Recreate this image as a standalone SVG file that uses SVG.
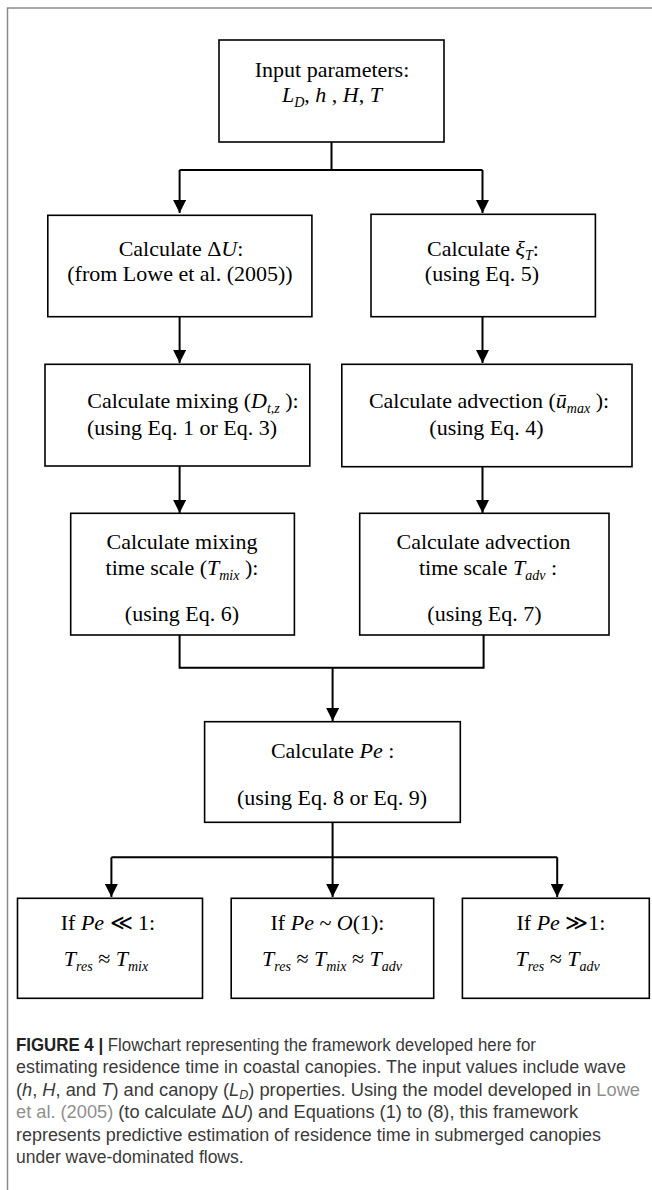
<svg xmlns="http://www.w3.org/2000/svg" width="652" height="1190" viewBox="0 0 652 1190">
<style>
.box{fill:#fff;stroke:#000;stroke-width:1.6}
.t{font-family:"Liberation Serif","Times New Roman","DejaVu Serif",serif;font-size:22px;fill:#000;text-anchor:middle}
.i{font-style:italic}
.s{font-size:14px;font-style:italic}
.c{stroke:#000;stroke-width:2;fill:none}
.cap{font-family:"Liberation Sans",Arial,sans-serif;font-size:17.5px;fill:#3a3a3a}
.lnk{fill:#8f8f8f}
</style>
<defs>
<marker id="ah" markerUnits="userSpaceOnUse" markerWidth="13" markerHeight="13" refX="13" refY="6.5" orient="auto">
<path d="M0,0 L13,6.5 L0,13 Z" fill="#000"/>
</marker>
</defs>
<rect x="0" y="0" width="652" height="1190" fill="#fff"/>
<rect x="7.5" y="8" width="700" height="1250" fill="none" stroke="#8a8a8a" stroke-width="1.5"/>

<g id="connectors">
<path class="c" d="M331.5,142 V170 M179.6,170 H482.5"/>
<path class="c" d="M179.6,170 V213" marker-end="url(#ah)"/>
<path class="c" d="M482.5,170 V213" marker-end="url(#ah)"/>
<path class="c" d="M179.6,316.7 V363" marker-end="url(#ah)"/>
<path class="c" d="M482.5,316.7 V363" marker-end="url(#ah)"/>
<path class="c" d="M179.6,466 V513" marker-end="url(#ah)"/>
<path class="c" d="M482.5,466.7 V513" marker-end="url(#ah)"/>
<path class="c" d="M179.6,635 V667.7 H483.6 V635"/>
<path class="c" d="M332.6,667.7 V721" marker-end="url(#ah)"/>
<path class="c" d="M332.6,822.3 V897" marker-end="url(#ah)"/>
<path class="c" d="M111.4,857.3 H557.2"/>
<path class="c" d="M111.4,857.3 V897" marker-end="url(#ah)"/>
<path class="c" d="M557.2,857.3 V897" marker-end="url(#ah)"/>
</g>

<g id="input">
<rect class="box" x="219" y="40" width="225" height="102"/>
<text class="t" x="332" y="77">Input parameters:</text>
<text class="t" x="332" y="102"><tspan class="i">L</tspan><tspan class="s" dy="5">D</tspan><tspan dy="-5">,  </tspan><tspan class="i">h</tspan> , <tspan class="i">H</tspan>, <tspan class="i">T</tspan></text>
</g>

<g id="deltaU">
<rect class="box" x="47.8" y="215.3" width="264.1" height="101.4"/>
<text class="t" x="181" y="256">Calculate Δ<tspan class="i">U</tspan>:</text>
<text class="t" x="180" y="281">(from Lowe et al. (2005))</text>
</g>

<g id="xiT">
<rect class="box" x="371" y="214.3" width="224.4" height="102.4"/>
<text class="t" x="483" y="256">Calculate <tspan class="i">ξ</tspan><tspan class="s" dy="4">T</tspan><tspan dy="-4">:</tspan></text>
<text class="t" x="482" y="281">(using Eq. 5)</text>
</g>

<g id="mixing">
<rect class="box" x="45" y="364.3" width="264.8" height="101.7"/>
<text class="t" x="193" y="408">Calculate mixing (<tspan class="i">D</tspan><tspan class="s" dy="5">t,z</tspan><tspan dy="-5"> ):</tspan></text>
<text class="t" x="182" y="435">(using Eq. 1 or Eq. 3)</text>
</g>

<g id="advection">
<rect class="box" x="341.8" y="364.3" width="290.2" height="102.4"/>
<text class="t" x="489" y="408">Calculate advection (<tspan class="i">ū</tspan><tspan class="s" dy="5">max</tspan><tspan dy="-5"> ):</tspan></text>
<text class="t" x="486.5" y="435">(using Eq. 4)</text>
</g>

<g id="tmix">
<rect class="box" x="70.7" y="513.3" width="223.7" height="121.7"/>
<text class="t" x="182" y="549">Calculate mixing</text>
<text class="t" x="182" y="575">time scale (<tspan class="i">T</tspan><tspan class="s" dy="5">mix</tspan><tspan dy="-5"> ):</tspan></text>
<text class="t" x="182" y="621">(using Eq. 6)</text>
</g>

<g id="tadv">
<rect class="box" x="359.7" y="513.3" width="249.3" height="121.7"/>
<text class="t" x="483.5" y="549">Calculate advection</text>
<text class="t" x="488" y="575">time scale <tspan class="i">T</tspan><tspan class="s" dy="5">adv</tspan><tspan dy="-5"> :</tspan></text>
<text class="t" x="484.5" y="621">(using Eq. 7)</text>
</g>

<g id="peclet">
<rect class="box" x="204.6" y="721.7" width="255.7" height="100.6"/>
<text class="t" x="332.6" y="758">Calculate <tspan class="i">Pe</tspan> :</text>
<text class="t" x="332" y="805">(using Eq. 8 or Eq. 9)</text>
</g>

<g id="peSmall">
<rect class="box" x="17.5" y="898.3" width="185" height="100"/>
<text class="t" x="108" y="930">If <tspan class="i">Pe</tspan> ≪ 1:</text>
<text class="t" x="106" y="966"><tspan class="i">T</tspan><tspan class="s" dy="5">res</tspan><tspan dy="-5"> ≈ </tspan><tspan class="i">T</tspan><tspan class="s" dy="5">mix</tspan></text>
</g>

<g id="peOne">
<rect class="box" x="231.2" y="898.3" width="202.5" height="100"/>
<text class="t" x="327.5" y="930">If <tspan class="i">Pe</tspan> ~ <tspan class="i">O</tspan>(1):</text>
<text class="t" x="332" y="966"><tspan class="i">T</tspan><tspan class="s" dy="5">res</tspan><tspan dy="-5"> ≈ </tspan><tspan class="i">T</tspan><tspan class="s" dy="5">mix</tspan><tspan dy="-5"> ≈ </tspan><tspan class="i">T</tspan><tspan class="s" dy="5">adv</tspan></text>
</g>

<g id="peLarge">
<rect class="box" x="462.4" y="898.3" width="186.9" height="100"/>
<text class="t" x="561" y="930">If <tspan class="i">Pe</tspan>  ≫1:</text>
<text class="t" x="557.6" y="966"><tspan class="i">T</tspan><tspan class="s" dy="5">res</tspan><tspan dy="-5"> ≈ </tspan><tspan class="i">T</tspan><tspan class="s" dy="5">adv</tspan></text>
</g>

<g id="caption">
<text class="cap" x="16" y="1050.5" textLength="520" lengthAdjust="spacingAndGlyphs"><tspan font-weight="bold" fill="#222">FIGURE 4 | </tspan>Flowchart representing the framework developed here for</text>
<text class="cap" x="16" y="1073" textLength="610" lengthAdjust="spacingAndGlyphs">estimating residence time in coastal canopies. The input values include wave</text>
<text class="cap" x="16" y="1095.6" textLength="624" lengthAdjust="spacingAndGlyphs">(<tspan font-style="italic">h</tspan>, <tspan font-style="italic">H</tspan>, and <tspan font-style="italic">T</tspan>) and canopy (<tspan font-style="italic">L</tspan><tspan font-style="italic" font-size="12" dy="3">D</tspan><tspan dy="-3">) properties. Using the model developed in </tspan><tspan class="lnk">Lowe</tspan></text>
<text class="cap" x="16" y="1118.2" textLength="562" lengthAdjust="spacingAndGlyphs"><tspan class="lnk">et al. (2005)</tspan> (to calculate Δ<tspan font-style="italic">U</tspan>) and Equations (1) to (8), this framework</text>
<text class="cap" x="16" y="1140.8" textLength="585" lengthAdjust="spacingAndGlyphs">represents predictive estimation of residence time in submerged canopies</text>
<text class="cap" x="16" y="1163.4">under wave-dominated flows.</text>
</g>
</svg>
